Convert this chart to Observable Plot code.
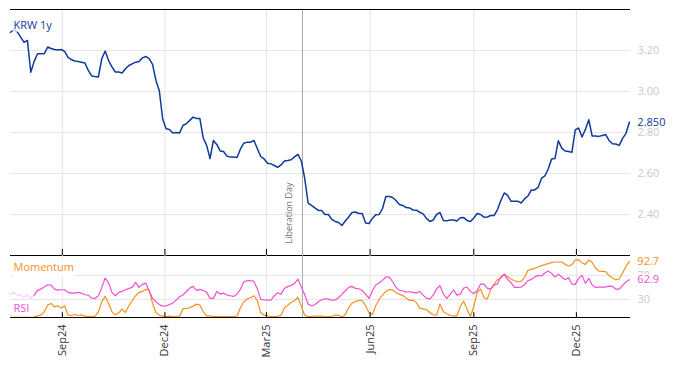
<!DOCTYPE html>
<html><head><meta charset="utf-8">
<script src="https://cdn.jsdelivr.net/npm/d3@7"></script>
<script src="https://cdn.jsdelivr.net/npm/@observablehq/plot@0.6"></script>
<style>
html,body{margin:0;padding:0;background:#fff;}
#chart svg{display:block;}
</style></head><body><div id="chart"></div>
<script>
// ---- data ----
const startDate = "2024-07-17";
const stepDays = 3;
const krw = [
3.289,3.301,3.291,3.265,3.240,3.249,3.094,3.147,3.184,3.184,
3.185,3.217,3.210,3.205,3.203,3.205,3.196,3.166,3.156,3.149,
3.146,3.143,3.139,3.103,3.076,3.073,3.071,3.161,3.197,3.151,
3.120,3.095,3.095,3.090,3.111,3.127,3.135,3.143,3.146,3.164,
3.171,3.160,3.132,3.054,3.004,2.866,2.818,2.815,2.798,2.800,
2.798,2.834,2.843,2.859,2.875,2.868,2.868,2.773,2.737,2.673,
2.761,2.742,2.710,2.707,2.685,2.680,2.680,2.678,2.720,2.748,
2.753,2.753,2.761,2.721,2.683,2.671,2.650,2.647,2.639,2.630,
2.642,2.661,2.663,2.667,2.681,2.693,2.661,2.576,2.456,2.444,
2.432,2.420,2.420,2.400,2.400,2.376,2.366,2.361,2.346,2.368,
2.388,2.410,2.412,2.405,2.405,2.359,2.356,2.381,2.399,2.400,
2.429,2.488,2.488,2.483,2.468,2.449,2.444,2.434,2.432,2.422,
2.421,2.411,2.403,2.381,2.366,2.373,2.400,2.410,2.371,2.369,
2.373,2.373,2.368,2.384,2.385,2.371,2.366,2.383,2.405,2.400,
2.387,2.388,2.395,2.395,2.424,2.468,2.505,2.493,2.465,2.465,
2.465,2.456,2.476,2.490,2.520,2.520,2.532,2.576,2.588,2.622,
2.671,2.673,2.760,2.724,2.710,2.707,2.703,2.813,2.822,2.778,
2.815,2.862,2.783,2.783,2.781,2.785,2.790,2.761,2.745,2.744,
2.737,2.771,2.796,2.850];
const rsi = [
38.9,41.7,37.2,37.2,33.3,37.2,31.7,37.2,45.0,47.2,
50.6,54.4,53.9,47.2,45.6,46.1,46.1,41.7,40.6,40.6,
41.7,40.6,37.8,37.2,32.2,31.7,36.1,50.0,65.6,57.2,
41.7,36.1,41.7,43.3,46.1,48.3,50.0,58.3,50.0,55.0,
57.2,43.9,31.7,26.1,21.7,18.9,19.4,21.7,23.9,28.9,
34.4,37.8,42.8,48.9,51.7,45.0,46.7,45.0,42.2,31.7,
31.7,43.3,38.9,40.6,37.2,36.1,35.0,38.9,47.2,59.4,
61.1,61.1,60.0,47.2,30.6,29.4,28.9,28.9,36.1,41.1,
38.9,48.3,51.7,53.3,56.7,63.9,50.6,37.8,22.2,
19.4,21.1,26.1,29.4,31.1,30.6,28.9,28.9,32.8,38.3,
44.4,50.0,51.7,48.3,47.8,45.0,38.9,31.7,44.4,53.9,
57.2,61.7,67.2,67.2,59.4,50.0,45.0,44.4,42.2,42.8,
41.7,40.6,43.3,37.2,32.2,30.6,37.2,47.8,52.8,38.9,
31.7,38.3,46.1,37.2,38.9,48.9,50.6,43.3,40.0,44.4,
55.6,55.6,48.3,47.2,53.9,55.6,67.2,71.7,63.3,57.8,
50.0,50.0,50.6,54.4,61.1,63.3,67.2,70.0,68.9,73.9,
77.2,73.3,67.2,71.7,67.2,62.8,66.1,55.6,55.0,65.0,
70.0,56.7,65.0,53.9,50.0,50.6,50.6,50.6,52.2,51.7,
47.2,47.2,53.3,58.9,62.9];
const momentum = [
2.8,2.2,1.7,2.8,2.8,1.7,1.1,1.1,2.8,3.9,
9.4,20.6,23.3,17.8,19.4,15.6,19.4,3.9,3.3,5.0,
3.3,4.4,2.2,1.7,1.7,2.2,9.4,26.1,35.0,23.3,
9.4,4.4,7.8,13.9,8.3,19.4,27.8,36.1,41.7,43.3,
46.7,46.1,23.3,8.3,3.9,2.2,1.7,2.2,1.7,1.7,
2.2,14.4,15.0,16.1,18.9,22.2,20.6,9.4,2.8,2.8,
1.7,1.7,1.7,1.7,1.7,1.7,1.7,2.8,16.7,26.1,
30.6,33.3,36.1,27.8,7.8,3.9,2.8,1.7,1.7,1.7,
3.9,16.1,20.6,25.0,28.3,33.3,18.3,3.9,1.7,
1.7,2.2,2.2,2.2,1.1,1.7,1.7,3.9,3.9,0.6,
5.0,16.7,23.9,26.7,28.3,28.3,19.4,8.3,5.0,19.4,
30.0,37.2,43.3,46.7,45.6,41.7,38.3,36.7,32.2,28.3,
28.9,25.0,15.6,14.4,13.3,8.3,4.4,3.9,22.2,9.4,
6.1,3.3,2.8,2.8,18.3,27.2,13.9,1.7,18.3,41.7,
47.2,33.3,30.6,47.2,55.6,62.8,65.6,71.7,67.8,63.9,
61.1,59.4,60.0,66.7,78.3,80.0,81.7,83.9,86.1,87.8,
89.4,91.1,92.2,92.2,92.2,88.3,85.6,87.8,95.6,96.1,
90.6,88.3,95.6,91.7,81.7,77.2,76.7,76.1,69.4,65.6,
62.8,63.9,73.9,85.0,92.7];
const warmupPoints = 8;
const tickDates = ["2024-09-01","2024-12-01","2025-03-01","2025-06-01","2025-09-01","2025-12-01"];
const tickLabels = ["Sep24","Dec24","Mar25","Jun25","Sep25","Dec25"];
const xRange = ["2024-07-17","2026-01-18"];
const yTicks = [2.4,2.6,2.8,3.0,3.2];
const yDomain = [2.2,3.4];
const lowerTicks = [30,70];
const lowerDomain = [0,103];
const eventDate = "2025-04-02";
const eventLabel = "Liberation Day";
const mainLabel = "KRW 1y";
const momLabel = "Momentum";
const rsiLabel = "RSI";

// ---- build ----
const parse = d3.utcParse("%Y-%m-%d");
const t0 = parse(startDate);
const rows = krw.map((v, i) => ({i, date: d3.utcDay.offset(t0, i * stepDays), krw: v, rsi: rsi[i], mom: momentum[i]}));
const ticks = tickDates.map(parse);
const labelOf = new Map(ticks.map((t, i) => [+t, tickLabels[i]]));
const xDomain = xRange.map(parse);
const ev = parse(eventDate);
const last = rows[rows.length - 1];

const font = "'Open Sans', 'Noto Sans', sans-serif";
const blue = "#0d3a9c", orange = "#f7901e", pink = "#f24fd3", grid = "#e5e5e5", axisGray = "#c9c9c9";

const main = Plot.plot({
  width: 674, height: 255, marginTop: 9, marginBottom: 0, marginLeft: 10, marginRight: 44,
  style: {fontFamily: font, fontSize: "11px", background: "white", overflow: "visible"},
  x: {type: "utc", domain: xDomain, axis: null, label: null},
  y: {domain: yDomain, axis: null, label: null},
  marks: [
    Plot.ruleY(yTicks, {stroke: grid}),
    Plot.ruleX(ticks, {stroke: grid}),
    Plot.ruleX([ev], {stroke: "#a9a9a9"}),
    Plot.text([eventLabel], {x: () => ev, y: () => yDomain[0], rotate: -90, textAnchor: "start", dx: -13, dy: -12, fill: "#707070", fontSize: 9}),
    Plot.line(rows, {x: "date", y: "krw", stroke: blue, strokeWidth: 1.5}),
    Plot.text([mainLabel], {frameAnchor: "top-left", dx: 3, dy: 12, fill: blue, stroke: "white", strokeWidth: 6, strokeOpacity: 0.75, fontSize: 11}),
    Plot.text([last], {x: "date", y: "krw", text: d => d.krw.toFixed(3), textAnchor: "start", dx: 8, fill: blue, fontSize: 11}),
    Plot.axisY(yTicks, {anchor: "right", label: null, tickSize: 0, tickPadding: 7, tickFormat: ".2f", fill: axisGray, fontSize: 11}),
    Plot.ruleY([yDomain[1]], {stroke: "black", strokeWidth: 1.2}),
    Plot.ruleY([yDomain[0]], {stroke: "black", strokeWidth: 1.2}),
    Plot.ruleX(ticks, {y1: yDomain[0], y2: yDomain[0] + 0.03, stroke: "black"})
  ]
});

const lower = Plot.plot({
  width: 674, height: 111, marginTop: 0, marginBottom: 49, marginLeft: 10, marginRight: 44,
  style: {fontFamily: font, fontSize: "11px", background: "white", overflow: "visible"},
  x: {type: "utc", domain: xDomain, axis: null, label: null},
  y: {domain: lowerDomain, axis: null, label: null},
  marks: [
    Plot.ruleY(lowerTicks, {stroke: grid}),
    Plot.ruleX(ticks, {stroke: grid}),
    Plot.ruleX([ev], {stroke: "#a9a9a9"}),
    Plot.axisY(lowerTicks, {anchor: "right", label: null, tickSize: 0, tickPadding: 7, fill: axisGray, fontSize: 11}),
    Plot.text([momLabel], {frameAnchor: "top-left", dx: 3, dy: 8, fill: orange, stroke: "white", strokeWidth: 10, fontSize: 11}),
    Plot.line(rows.filter(d => d.i < warmupPoints), {x: "date", y: "mom", stroke: orange, strokeOpacity: 0.3, strokeWidth: 1.2}),
    Plot.line(rows.filter(d => d.i >= warmupPoints - 1), {x: "date", y: "mom", stroke: orange, strokeWidth: 1.2}),
    Plot.line(rows.filter(d => d.i < warmupPoints), {x: "date", y: "rsi", stroke: pink, strokeOpacity: 0.3, strokeWidth: 1.2}),
    Plot.line(rows.filter(d => d.i >= warmupPoints - 1), {x: "date", y: "rsi", stroke: pink, strokeWidth: 1.2}),
    Plot.text([rsiLabel], {frameAnchor: "bottom-left", dx: 3, dy: -6, fill: pink, fontSize: 11}),
    Plot.text([last], {x: "date", y: "mom", text: d => d.mom.toFixed(1), textAnchor: "start", dx: 8, fill: orange, fontSize: 11}),
    Plot.text([last], {x: "date", y: "rsi", text: d => d.rsi.toFixed(1), textAnchor: "start", dx: 8, fill: pink, fontSize: 11, stroke: "white", strokeWidth: 3}),
    Plot.ruleY([lowerDomain[0]], {stroke: "black", strokeWidth: 1.2}),
    Plot.ruleX(ticks, {y1: lowerDomain[0], y2: lowerDomain[0] + 8, stroke: "black"}),
    Plot.axisX(ticks, {anchor: "bottom", label: null, tickSize: 0, tickPadding: 7, tickRotate: -90, tickFormat: d => labelOf.get(+d), fill: "#333", fontSize: 11})
  ]
});

document.getElementById("chart").append(main, lower);
</script>
</body></html>
